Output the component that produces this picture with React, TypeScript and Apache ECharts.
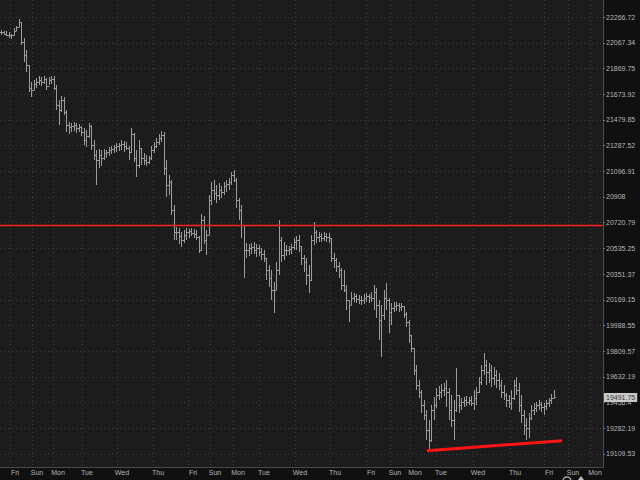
import React, { useEffect, useRef } from "react";
import * as echarts from "echarts";

// ---- scale definition (log price axis with evenly spaced geometric ticks) ----
const BASE = 19109.53;
const RATIO = 1.009035;
const Y_TICK_LABELS = [
  "19109.53", "19282.19", "19456.4", "19632.19", "19809.57", "19988.55",
  "20169.15", "20351.37", "20535.25", "20720.79", "20908", "21096.91",
  "21287.52", "21479.85", "21673.92", "21869.75", "22067.34", "22266.72",
];
const DAY_NAMES = [
  "Fri", "Sun", "Mon", "Tue", "Wed", "Thu", "Fri", "Sun", "Mon", "Tue", "Wed",
  "Thu", "Fri", "Sun", "Mon", "Tue", "Wed", "Thu", "Fri", "Sun", "Mon",
];
// day boundaries, in bar-index units
const DAY_STARTS = [
  3.6, 12.4, 20.8, 32.4, 46.4, 60.8, 74.8, 83.6, 92.8, 103.2, 117.6,
  131.6, 146, 155.6, 163.6, 174, 188.8, 203.6, 217.2, 226.8, 235.6,
];

// ---- OHLC data (open = previous close) ----
const FIRST_OPEN = 22150;
const HIGH = [
  22170, 22162, 22155, 22147, 22139, 22178, 22201, 22248, 22232, 22108, 22015, 21900, 21770, 21785, 21800, 21815, 21808, 21815, 21800, 21808,
  21815, 21815, 21747, 21633, 21663, 21656, 21557, 21467, 21459, 21467, 21459, 21452, 21437, 21422, 21407, 21459, 21444, 21332, 21257, 21265,
  21257, 21265, 21257, 21280, 21287, 21295, 21310, 21310, 21332, 21325, 21317, 21287, 21422, 21384, 21257, 21332, 21272, 21235, 21220, 21213,
  21287, 21317, 21347, 21377, 21399, 21392, 21183, 21072, 21035, 20852, 20691, 20684, 20655, 20669, 20684, 20677, 20684, 20677, 20669, 20626,
  20786, 20771, 20669, 20925, 21020, 21035, 20998, 21013, 20991, 21020, 21035, 21050, 21094, 21109, 21050, 20903, 20852, 20706, 20575, 20568,
  20575, 20582, 20568, 20561, 20539, 20525, 20467, 20417, 20382, 20296, 20439, 20742, 20618, 20582, 20561, 20553, 20568, 20611, 20626, 20633,
  20553, 20489, 20467, 20417, 20633, 20727, 20669, 20655, 20648, 20655, 20648, 20648, 20611, 20503, 20467, 20439, 20396, 20382, 20274, 20168,
  20225, 20218, 20211, 20203, 20196, 20211, 20218, 20211, 20225, 20274, 20253, 20168, 20133, 20239, 20288, 20182, 20146, 20153, 20153, 20146,
  20146, 20126, 20083, 20027, 19922, 19832, 19715, 19611, 19542, 19474, 19406, 19338, 19440, 19495, 19556, 19570, 19583, 19590, 19611, 19556,
  19508, 19474, 19694, 19510, 19488, 19495, 19502, 19495, 19502, 19542, 19563, 19631, 19715, 19797, 19749, 19729, 19715, 19701, 19680, 19659,
  19611, 19576, 19522, 19508, 19542, 19611, 19631, 19590, 19508, 19406, 19352, 19386, 19440, 19454, 19461, 19474, 19461, 19454, 19474, 19488,
  19515, 19542,
];
const LOW = [
  22131, 22124, 22116, 22108, 22100, 22131, 22155, 22186, 22054, 21922, 21846, 21694, 21656, 21709, 21724, 21747, 21739, 21755, 21709, 21747,
  21755, 21709, 21557, 21444, 21542, 21519, 21392, 21377, 21392, 21399, 21384, 21392, 21362, 21295, 21280, 21347, 21257, 21183, 20998, 21124,
  21139, 21183, 21198, 21213, 21228, 21235, 21242, 21250, 21257, 21242, 21257, 21183, 21235, 21168, 21057, 21124, 21146, 21146, 21139, 21153,
  21183, 21235, 21272, 21295, 21317, 21072, 20910, 20925, 20778, 20597, 20597, 20568, 20546, 20575, 20597, 20611, 20626, 20611, 20597, 20503,
  20518, 20568, 20489, 20633, 20852, 20888, 20866, 20888, 20903, 20925, 20946, 20961, 20998, 21020, 20830, 20742, 20611, 20324, 20467, 20482,
  20496, 20496, 20474, 20482, 20453, 20439, 20310, 20260, 20168, 20076, 20239, 20346, 20439, 20453, 20482, 20489, 20496, 20525, 20525, 20510,
  20417, 20367, 20274, 20218, 20303, 20561, 20575, 20582, 20582, 20589, 20582, 20575, 20439, 20396, 20367, 20324, 20239, 20225, 20097, 20013,
  20133, 20153, 20146, 20140, 20133, 20140, 20153, 20146, 20153, 20097, 20041, 19888, 19770, 20027, 20097, 19936, 19992, 20083, 20090, 20083,
  20090, 20041, 19978, 19867, 19804, 19645, 19542, 19488, 19386, 19338, 19203, 19137, 19190, 19338, 19420, 19474, 19488, 19502, 19426, 19338,
  19291, 19203, 19393, 19386, 19406, 19426, 19433, 19440, 19433, 19406, 19440, 19522, 19576, 19645, 19576, 19590, 19563, 19576, 19556, 19542,
  19488, 19474, 19426, 19420, 19406, 19474, 19508, 19393, 19318, 19237, 19203, 19217, 19338, 19372, 19393, 19406, 19393, 19372, 19406, 19426,
  19447, 19488,
];
const CLOSE = [
  22147, 22139, 22131, 22124, 22131, 22162, 22186, 22232, 22077, 21976, 21900, 21724, 21709, 21755, 21770, 21785, 21770, 21793, 21739, 21785,
  21793, 21724, 21595, 21557, 21633, 21542, 21444, 21429, 21437, 21444, 21422, 21429, 21392, 21332, 21362, 21437, 21295, 21220, 21183, 21220,
  21198, 21235, 21242, 21257, 21265, 21280, 21287, 21295, 21302, 21287, 21272, 21242, 21377, 21198, 21146, 21272, 21198, 21183, 21168, 21198,
  21257, 21287, 21317, 21347, 21369, 21124, 20998, 21020, 20815, 20655, 20655, 20626, 20597, 20633, 20655, 20662, 20648, 20640, 20618, 20525,
  20742, 20597, 20633, 20888, 20961, 20939, 20925, 20961, 20946, 20991, 21006, 21020, 21072, 21035, 20888, 20815, 20706, 20525, 20525, 20539,
  20546, 20525, 20539, 20510, 20496, 20467, 20382, 20324, 20239, 20239, 20382, 20597, 20489, 20525, 20525, 20532, 20546, 20582, 20597, 20553,
  20467, 20439, 20346, 20310, 20597, 20655, 20618, 20626, 20611, 20626, 20618, 20611, 20467, 20453, 20410, 20382, 20274, 20239, 20168, 20133,
  20182, 20196, 20175, 20168, 20168, 20182, 20196, 20189, 20182, 20225, 20133, 20027, 20062, 20182, 20168, 20083, 20112, 20126, 20133, 20118,
  20126, 20069, 20013, 19922, 19832, 19680, 19576, 19529, 19440, 19372, 19271, 19203, 19406, 19440, 19508, 19529, 19542, 19556, 19529, 19406,
  19338, 19406, 19508, 19440, 19461, 19474, 19461, 19474, 19454, 19488, 19529, 19597, 19680, 19715, 19666, 19680, 19625, 19645, 19611, 19576,
  19529, 19508, 19474, 19454, 19488, 19576, 19542, 19440, 19372, 19305, 19284, 19352, 19406, 19420, 19440, 19447, 19426, 19433, 19454, 19474,
  19488, 19491.75,
];

const LAST_PRICE = 19491.75;
const RESISTANCE = 20700;
const TREND_X = [170.4, 224.4];
const TREND_PRICE = [19132, 19198];

// ---- layout / style ----
const X_MIN = -0.4;
const X_MAX = 240.8;
const Y_MIN = -0.506;
const Y_MAX = 17.665;
const BAR_COLOR = "#9c9c9c";
const GRID_COLOR = "#3d3d3d";
const TEXT_COLOR = "#b4b4b4";
const FONT = "'Liberation Sans', Arial, sans-serif";

const T = (p: number) => Math.log(p / BASE) / Math.log(RATIO);

export default function App() {
  const ref = useRef<HTMLDivElement>(null);

  useEffect(() => {
    if (!ref.current) return;
    const chart = echarts.init(ref.current, null, { renderer: "svg" });

    const ohlc = CLOSE.map((c, i) => [
      i,
      T(i === 0 ? FIRST_OPEN : CLOSE[i - 1]),
      T(HIGH[i]),
      T(LOW[i]),
      T(c),
    ]);
    const yTicks = Y_TICK_LABELS.map((_, i) => i);
    const labelPos = DAY_STARTS.map((v) => v + 2);

    const option: any = {
      animation: false,
      backgroundColor: "#101010",
      grid: {
        left: 0,
        right: 37,
        top: 0,
        bottom: 13,
        show: true,
        backgroundColor: "#1c1c1c",
        borderWidth: 0,
      },
      xAxis: {
        type: "value",
        min: X_MIN,
        max: X_MAX,
        axisLine: { show: true, onZero: false, lineStyle: { color: "#4a4a4a", width: 1 } },
        axisTick: { show: false, customValues: DAY_STARTS },
        axisLabel: {
          customValues: labelPos,
          color: TEXT_COLOR,
          fontSize: 7,
          fontFamily: FONT,
          margin: 2,
          formatter: (v: number) => {
            let best = 0;
            for (let k = 0; k < labelPos.length; k++) {
              if (Math.abs(labelPos[k] - v) < Math.abs(labelPos[best] - v)) best = k;
            }
            return DAY_NAMES[best];
          },
        },
        splitLine: {
          show: true,
          lineStyle: { color: GRID_COLOR, width: 1, type: [1, 3] },
        },
      },
      yAxis: {
        type: "value",
        position: "right",
        min: Y_MIN,
        max: Y_MAX,
        axisLine: { show: true, onZero: false, lineStyle: { color: "#4a4a4a", width: 1 } },
        axisTick: {
          show: true,
          length: 2,
          customValues: yTicks,
          lineStyle: { color: "#777" },
        },
        axisLabel: {
          customValues: yTicks,
          color: TEXT_COLOR,
          fontSize: 7,
          fontFamily: FONT,
          margin: 3,
          formatter: (v: number) => Y_TICK_LABELS[Math.round(v)] ?? "",
        },
        splitLine: {
          show: true,
          lineStyle: { color: GRID_COLOR, width: 1, type: [1, 3] },
        },
      },
      series: [
        {
          type: "custom",
          silent: true,
          clip: true,
          encode: { x: 0, y: [1, 2, 3, 4] },
          data: ohlc,
          renderItem: (_params: any, api: any) => {
            const x = api.value(0);
            const pO = api.coord([x, api.value(1)]);
            const pH = api.coord([x, api.value(2)]);
            const pL = api.coord([x, api.value(3)]);
            const pC = api.coord([x, api.value(4)]);
            const cx = Math.round(pH[0]) + 0.5;
            let yH = Math.round(pH[1]);
            let yL = Math.round(pL[1]);
            if (yL - yH < 1) yL = yH + 1;
            const yO = Math.round(pO[1]) + 0.5;
            const yC = Math.round(pC[1]) + 0.5;
            const style = { stroke: BAR_COLOR, lineWidth: 1 };
            return {
              type: "group",
              children: [
                { type: "line", shape: { x1: cx, y1: yH, x2: cx, y2: yL }, style },
                { type: "line", shape: { x1: cx - 1.5, y1: yO, x2: cx, y2: yO }, style },
                { type: "line", shape: { x1: cx, y1: yC, x2: cx + 1.5, y2: yC }, style },
              ],
            };
          },
        },
        {
          type: "line",
          silent: true,
          symbol: "none",
          z: 5,
          data: [
            [X_MIN, T(RESISTANCE)],
            [X_MAX, T(RESISTANCE)],
          ],
          lineStyle: { color: "#ff2020", width: 1.5 },
        },
        {
          type: "line",
          silent: true,
          symbol: "none",
          z: 5,
          data: [
            [TREND_X[0], T(TREND_PRICE[0])],
            [TREND_X[1], T(TREND_PRICE[1])],
          ],
          lineStyle: { color: "#ff1414", width: 3 },
          markLine: {
            silent: true,
            symbol: ["none", "none"],
            animation: false,
            lineStyle: { color: "rgba(0,0,0,0)", width: 1, type: "solid" },
            data: [
              {
                yAxis: T(LAST_PRICE),
                label: {
                  show: true,
                  position: "end",
                  distance: 1,
                  formatter: () => LAST_PRICE.toFixed(2),
                  backgroundColor: "#c9c9c9",
                  color: "#3a3a3a",
                  fontSize: 7,
                  lineHeight: 8,
                  fontFamily: FONT,
                  padding: [1, 2, 0, 2],
                },
              },
            ],
          },
        },
      ],
      graphic: [
        {
          type: "circle",
          silent: true,
          shape: { cx: 567, cy: 481, r: 4 },
          style: { fill: "none", stroke: "#bdbdbd", lineWidth: 1.2 },
        },
        {
          type: "polygon",
          silent: true,
          shape: { points: [[578, 480], [581, 476], [584, 480]] },
          style: { fill: "#bdbdbd" },
        },
      ],
    };

    chart.setOption(option);
    return () => chart.dispose();
  }, []);

  return (
    <div
      ref={ref}
      style={{ position: "absolute", left: 0, top: 0, width: 640, height: 480 }}
    />
  );
}
